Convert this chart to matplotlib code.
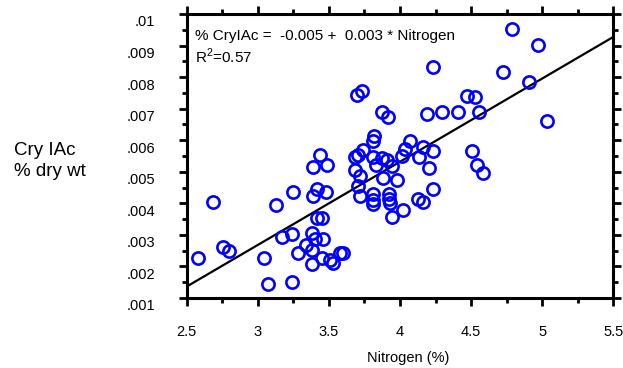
import matplotlib
matplotlib.use("Agg")
import matplotlib.pyplot as plt
import matplotlib.transforms as mtransforms
import numpy as np

plt.rcParams['font.family'] = ['Liberation Sans', 'DejaVu Sans']
plt.rcParams['mathtext.fontset'] = 'custom'
plt.rcParams['mathtext.rm'] = 'Liberation Sans'

# ---- data ----
nitrogen = [2.582, 2.685, 2.757, 2.797, 3.044, 3.070, 3.126, 3.172, 3.238, 3.238,
            3.245, 3.285, 3.339, 3.386, 3.386, 3.383, 3.402, 3.383, 3.383, 3.416,
            3.437, 3.455, 3.480, 3.490, 3.416, 3.451, 3.449, 3.508, 3.529, 3.578,
            3.599, 3.684, 3.719, 3.705, 3.719, 3.684, 3.707, 3.742, 3.812, 3.828,
            3.870, 3.909, 3.942, 4.014, 3.695, 3.733, 3.870, 3.918, 3.817, 3.810,
            3.810, 3.810, 3.810, 3.878, 3.925, 3.925, 3.930, 3.942, 3.979, 4.018,
            4.070, 4.035, 4.131, 4.164, 4.234, 4.206, 4.129, 4.164, 4.230, 4.188,
            4.230, 4.297, 4.410, 4.469, 4.527, 4.559, 4.504, 4.541, 4.581, 4.722,
            4.786, 4.906, 4.973, 5.032]
cry = [0.00226, 0.00403, 0.00261, 0.00250, 0.00226, 0.00144, 0.00395, 0.00292, 0.00302, 0.00150,
       0.00437, 0.00243, 0.00268, 0.00514, 0.00422, 0.00305, 0.00286, 0.00252, 0.00208, 0.00444,
       0.00554, 0.00286, 0.00437, 0.00521, 0.00353, 0.00353, 0.00226, 0.00220, 0.00210, 0.00242,
       0.00244, 0.00506, 0.00487, 0.00455, 0.00422, 0.00546, 0.00553, 0.00569, 0.00547, 0.00521,
       0.00544, 0.00537, 0.00518, 0.00550, 0.00743, 0.00756, 0.00690, 0.00675, 0.00613, 0.00598,
       0.00430, 0.00412, 0.00397, 0.00479, 0.00429, 0.00413, 0.00402, 0.00358, 0.00474, 0.00379,
       0.00596, 0.00571, 0.00548, 0.00580, 0.00567, 0.00513, 0.00413, 0.00404, 0.00444, 0.00683,
       0.00833, 0.00690, 0.00690, 0.00740, 0.00736, 0.00690, 0.00566, 0.00521, 0.00497, 0.00817,
       0.00952, 0.00785, 0.00902, 0.00661]

fit_intercept = -0.00523
fit_slope = 0.002637
x_ticks = [2.5, 3, 3.5, 4, 4.5, 5, 5.5]
x_tick_labels = ['2.5', '3', '3.5', '4', '4.5', '5', '5.5']
y_ticks = [0.001, 0.002, 0.003, 0.004, 0.005, 0.006, 0.007, 0.008, 0.009, 0.01]
y_tick_labels = ['.001', '.002', '.003', '.004', '.005', '.006', '.007', '.008', '.009', '.01']

W, H = 623, 368
fig = plt.figure(figsize=(W / 100, H / 100), dpi=100)
ax = fig.add_axes([186.7 / W, (H - 298) / H, (613.3 - 186.7) / W, (298 - 14) / H])

ax.plot(nitrogen, cry, linestyle='none', marker='o', markersize=8.8,
        markerfacecolor='none', markeredgecolor='#0000ff', markeredgewidth=1.9,
        zorder=3)

xl = np.array([2.5, 5.5])
ax.plot(xl, fit_intercept + fit_slope * xl, color='black', linewidth=1.6, zorder=2)

ax.set_xlim(2.5, 5.5)
ax.set_ylim(0.001, 0.01)
ax.set_xticks(x_ticks)
ax.set_xticklabels(x_tick_labels)
ax.set_yticks(y_ticks)
ax.set_yticklabels(y_tick_labels)
ax.set_xticks(np.arange(2.75, 5.5, 0.5), minor=True)
ax.set_yticks(np.arange(0.0015, 0.01, 0.001), minor=True)

for s in ax.spines.values():
    s.set_linewidth(2.2)

ax.tick_params(which='both', direction='out', top=True, right=True,
               width=2.0, color='black', labelsize=10.5)
ax.tick_params(which='major', length=5.5)
ax.tick_params(which='minor', length=3.5)
ax.tick_params(axis='x', which='major', pad=14)
ax.tick_params(axis='y', which='major', pad=17)

offset = mtransforms.ScaledTranslation(0, -7 / 100, fig.dpi_scale_trans)
for lab in ax.get_yticklabels():
    lab.set_transform(lab.get_transform() + offset)

fig.text(195 / W, 1 - 40 / H, '% CryIAc =  -0.005 +  0.003 * Nitrogen',
         fontsize=11, va='baseline', ha='left')
fig.text(195 / W, 1 - 63 / H, r'R$^{\mathrm{2}}$=0.57',
         fontsize=11, va='baseline', ha='left')

fig.text(408 / W, 1 - 358 / H, 'Nitrogen (%)', fontsize=10.5, ha='center', va='center')
fig.text(14 / W, 1 - 155 / H, 'Cry IAc', fontsize=13.5, ha='left', va='baseline')
fig.text(14 / W, 1 - 176 / H, '% dry wt', fontsize=13.5, ha='left', va='baseline')

fig.savefig('out.png', dpi=100)
